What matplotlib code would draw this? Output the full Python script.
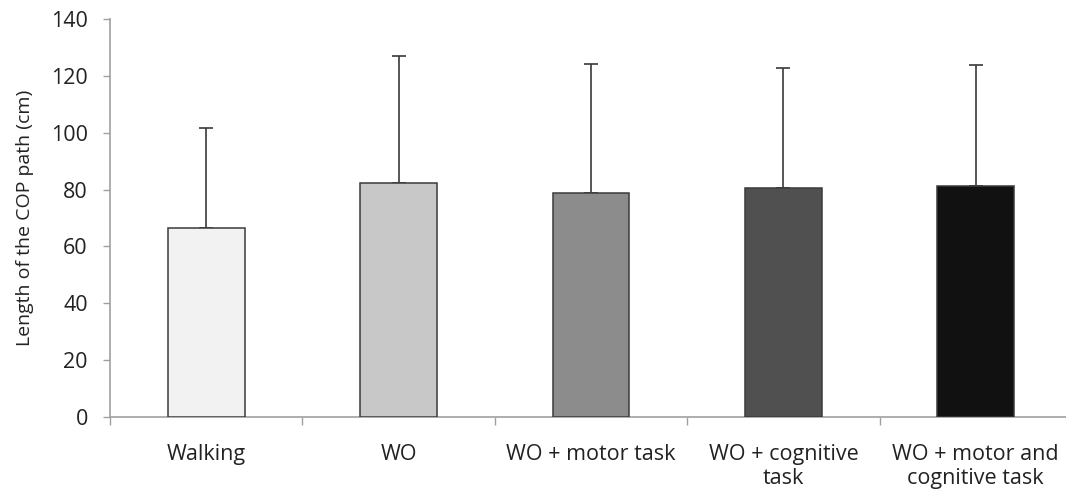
import matplotlib
matplotlib.use("Agg")
import matplotlib.pyplot as plt
import numpy as np

categories = ["Walking", "WO", "WO + motor task", "WO + cognitive\ntask", "WO + motor and\ncognitive task"]
means = [66.4, 82.4, 78.7, 80.4, 81.2]
sd_upper = [35.4, 44.8, 45.7, 42.6, 42.6]
colors = ["#f2f2f2", "#c8c8c8", "#8c8c8c", "#505050", "#111111"]
yticks = [0, 20, 40, 60, 80, 100, 120, 140]

plt.rcParams['font.family'] = ['Open Sans', 'DejaVu Sans']

fig = plt.figure(figsize=(10.66, 4.93), dpi=100)
ax = fig.add_axes([110/1066, 76.3/493, 962/1066, 397.4/493])

x = np.arange(len(categories))
ax.bar(x, means, width=0.40, color=colors, edgecolor="#3a3a3a", linewidth=1.1, zorder=3)
ax.errorbar(x, means, yerr=[np.zeros(len(means)), sd_upper], fmt='none',
            ecolor="#3a3a3a", elinewidth=1.2, capsize=5, capthick=1.2, zorder=2)

ax.set_xlim(-0.5, 4.5)
ax.set_ylim(0, 140)
ax.set_yticks(yticks)
ax.tick_params(axis='y', labelsize=15.5, length=5, width=1, color="#a0a0a0", pad=11, labelcolor="#222222")

ax.set_xticks(x)
ax.set_xticklabels(categories, fontsize=15.5, color="#222222", linespacing=1.15)
ax.tick_params(axis='x', length=0, pad=20)
ax.set_xticks(np.arange(-0.5, 5.0, 1.0), minor=True)
ax.tick_params(axis='x', which='minor', length=6, width=1, color="#a0a0a0")

for s in ['top', 'right']:
    ax.spines[s].set_visible(False)
for s in ['left', 'bottom']:
    ax.spines[s].set_color("#a0a0a0")
    ax.spines[s].set_linewidth(1.2)

ax.set_ylabel("Length of the COP path (cm)", fontsize=14, color="#222222", labelpad=12)

fig.savefig("out.png", dpi=100)
